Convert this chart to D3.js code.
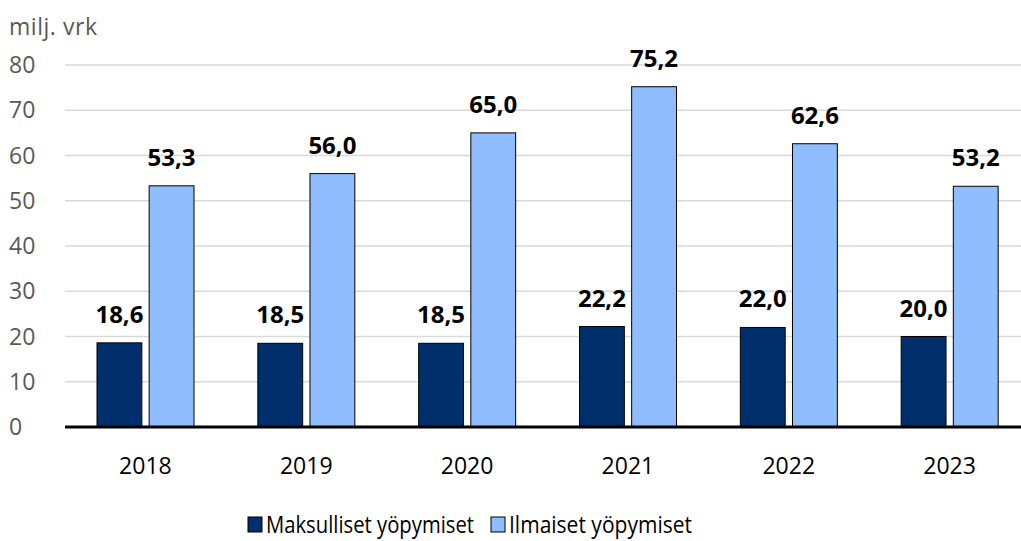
<!DOCTYPE html>
<html>
<head>
<meta charset="utf-8">
<script src="https://cdn.jsdelivr.net/npm/d3@7"></script>
<style>
  body { margin: 0; background: #fff; }
  svg { display: block; font-family: "Open Sans", "Noto Sans", sans-serif; }
</style>
</head>
<body>
<script>
const years = ['2018', '2019', '2020', '2021', '2022', '2023'];
const seriesNames = ['Maksulliset yöpymiset', 'Ilmaiset yöpymiset'];
const paid = [18.6, 18.5, 18.5, 22.2, 22.0, 20.0];
const free = [53.3, 56.0, 65.0, 75.2, 62.6, 53.2];
const yTicks = [0, 10, 20, 30, 40, 50, 60, 70, 80];
const colors = ['#002f6c', '#8fbdfd'];

const W = 1021, H = 541;
const m = { left: 65, right: -9, top: 65, bottom: 114 };

const svg = d3.select('body').append('svg').attr('width', W).attr('height', H);

const x = d3.scaleBand().domain(years).range([m.left, W - m.right]);
const xs = d3.scaleBand().domain([0, 1]).range([32, 129]).paddingInner(0.14);
const y = d3.scaleLinear().domain([0, 80]).range([H - m.bottom, m.top]);

// grid
svg.append('g').selectAll('line').data(yTicks.filter(d => d > 0)).enter()
  .append('line')
  .attr('x1', m.left).attr('x2', W)
  .attr('y1', d => y(d)).attr('y2', d => y(d))
  .attr('stroke', '#d9d9d9').attr('stroke-width', 1.5);

// y labels
svg.append('g').selectAll('text').data(yTicks).enter()
  .append('text')
  .attr('x', 9).attr('y', d => y(d) + 8)
  .attr('fill', '#595959').attr('font-size', 23)
  .text(d => d);

svg.append('text').attr('x', 9).attr('y', 35)
  .attr('fill', '#595959').attr('font-size', 23)
  .attr('textLength', 88).text('milj. vrk');

const data = years.map((yr, i) => ({ yr, vals: [paid[i], free[i]] }));

const groups = svg.append('g').selectAll('g').data(data).enter()
  .append('g').attr('transform', d => 'translate(' + x(d.yr) + ',0)');

groups.selectAll('rect').data(d => d.vals).enter()
  .append('rect')
  .attr('x', (d, i) => xs(i))
  .attr('width', xs.bandwidth())
  .attr('y', d => y(d))
  .attr('height', d => y(0) - y(d))
  .attr('fill', (d, i) => colors[i])
  .attr('stroke', '#000').attr('stroke-width', 1);

groups.selectAll('text.val').data(d => d.vals).enter()
  .append('text').attr('class', 'val')
  .attr('x', (d, i) => xs(i) + xs.bandwidth() / 2)
  .attr('y', d => y(d) - 20)
  .attr('text-anchor', 'middle')
  .attr('font-size', 24).attr('font-weight', 'bold').attr('fill', '#000')
  .text(d => d.toFixed(1).replace('.', ','));

// baseline
svg.append('line')
  .attr('x1', m.left).attr('x2', W)
  .attr('y1', y(0)).attr('y2', y(0))
  .attr('stroke', '#000').attr('stroke-width', 3);

// x labels
svg.append('g').selectAll('text').data(years).enter()
  .append('text')
  .attr('x', d => x(d) + x.bandwidth() / 2)
  .attr('y', 474)
  .attr('text-anchor', 'middle')
  .attr('font-size', 23).attr('fill', '#000')
  .text(d => d);

// legend
const legX = [248, 491];
const legW = [208, 183];
const leg = svg.append('g').selectAll('g').data(seriesNames).enter()
  .append('g').attr('transform', (d, i) => 'translate(' + legX[i] + ',517)');
leg.append('rect').attr('width', 14).attr('height', 15)
  .attr('fill', (d, i) => colors[i]).attr('stroke', '#000').attr('stroke-width', 1);
leg.append('text').attr('x', 18).attr('y', 16)
  .attr('font-size', 23).attr('fill', '#000')
  .attr('textLength', (d, i) => legW[i])
  .attr('lengthAdjust', 'spacingAndGlyphs')
  .text(d => d);
</script>
</body>
</html>
